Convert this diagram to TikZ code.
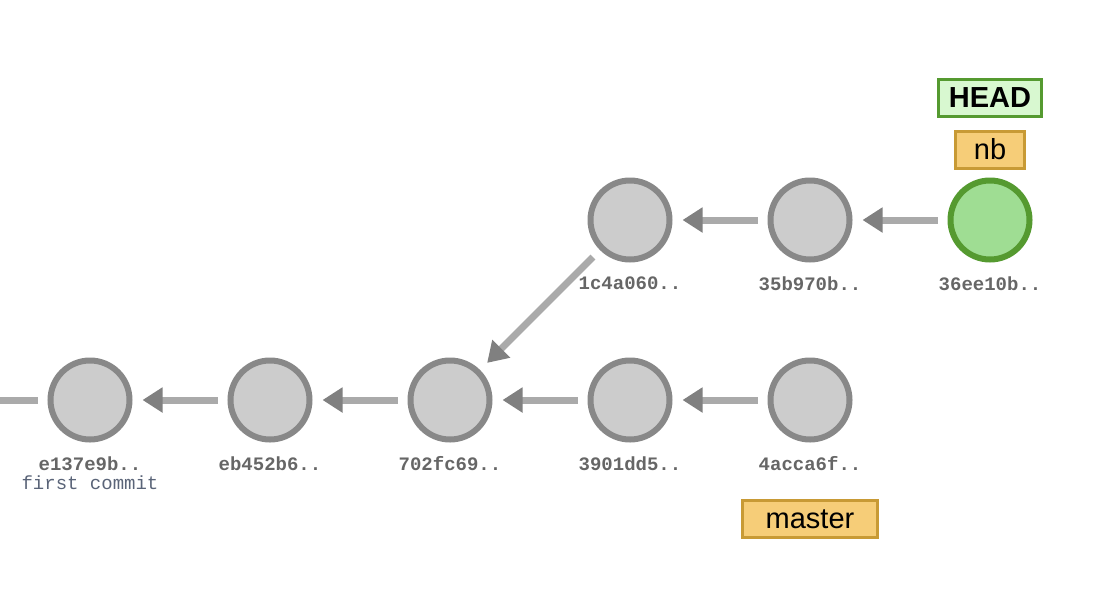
\documentclass[tikz,border=0pt]{standalone}
\usepackage{fontspec}
\setmainfont{Liberation Sans}
\setmonofont{Liberation Mono}
\usetikzlibrary{arrows.meta,positioning}
\definecolor{commitfill}{HTML}{CCCCCC}
\definecolor{commitline}{HTML}{888888}
\definecolor{headfill}{HTML}{9FDD93}
\definecolor{headline}{HTML}{559A30}
\definecolor{headbg}{HTML}{D8F8D0}
\definecolor{branchfill}{HTML}{F6CD78}
\definecolor{branchline}{HTML}{C89A35}
\definecolor{edgegray}{HTML}{AAAAAA}
\definecolor{tipgray}{HTML}{808080}
\definecolor{hashgray}{HTML}{666666}
\definecolor{msggray}{HTML}{5A6478}

\begin{document}
\begin{tikzpicture}[x=1pt,y=-1pt,
  commit/.style={circle,draw=commitline,fill=commitfill,line width=6pt,
                 minimum size=79pt,inner sep=0pt},
  current/.style={commit,draw=headline,fill=headfill},
  hash/.style={font=\ttfamily\bfseries\fontsize{19}{22}\selectfont,
               text=hashgray,inner sep=0pt,below=14pt of #1},
  msg/.style={font=\ttfamily\fontsize{19}{22}\selectfont,text=msggray,
              inner sep=0pt,below=5pt of #1},
  branch/.style={draw=branchline,fill=branchfill,line width=3pt,
                 minimum height=37pt,inner sep=0pt,
                 font=\fontsize{29}{32}\selectfont},
  headref/.style={branch,draw=headline,fill=headbg,font=\bfseries\fontsize{29}{32}\selectfont},
  parent/.style={draw=edgegray,line width=7pt,shorten <=10pt,shorten >=10pt,
                 -{Triangle[length=20pt,width=24pt,color=tipgray]}}]
  \clip (0,0) rectangle (1114,614);
  % commits, lower row
  \node[commit] (c1) at (90,400) {};
  \node[commit] (c2) at (270,400) {};
  \node[commit] (c3) at (450,400) {};
  \node[commit] (c4) at (630,400) {};
  \node[commit] (c5) at (810,400) {};
  % commits, upper row
  \node[commit]  (t1) at (630,220) {};
  \node[commit]  (t2) at (810,220) {};
  \node[current] (t3) at (990,220) {};
  \coordinate (root) at (-100,400);
  % hashes
  \node[hash=c1] (h1) {e137e9b..};
  \node[msg=h1] (m1) {first commit};
  \node[hash=c2] (h2) {eb452b6..};
  \node[hash=c3] (h3) {702fc69..};
  \node[hash=c4] (h4) {3901dd5..};
  \node[hash=c5] (h5) {4acca6f..};
  \node[hash=t1] (h6) {1c4a060..};
  \node[hash=t2] (h7) {35b970b..};
  \node[hash=t3] (h8) {36ee10b..};
  % parent links
  \draw[parent] (c1) -- (root);
  \draw[parent] (c2) -- (c1);
  \draw[parent] (c3) -- (c2);
  \draw[parent] (c4) -- (c3);
  \draw[parent] (c5) -- (c4);
  \draw[parent] (t1) -- (c3);
  \draw[parent] (t2) -- (t1);
  \draw[parent] (t3) -- (t2);
  % refs
  \node[branch,minimum width=69pt,above=8pt of t3] (nb) {nb};
  \node[headref,minimum width=103pt,above=12pt of nb] (head) {HEAD};
  \node[branch,minimum width=135pt,below=28pt of h5] (master) {master};
\end{tikzpicture}
\end{document}
